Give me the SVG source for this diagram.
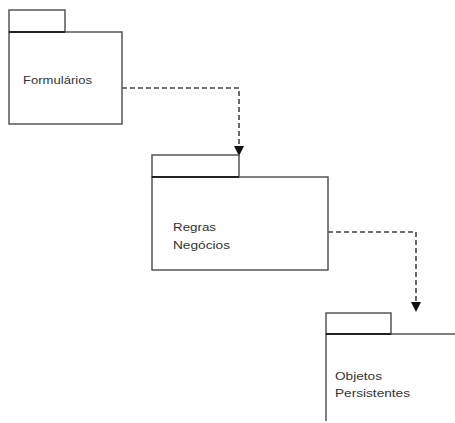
<svg xmlns="http://www.w3.org/2000/svg" width="455" height="423" viewBox="0 0 455 423">
<style>
.box{fill:#fff;stroke:#555;stroke-width:1.5}
.tabline{stroke:#222;stroke-width:2}
.lbl{font-family:"Liberation Sans",Arial,sans-serif;font-size:11.5px;fill:#333}
.dep{fill:none;stroke:#444;stroke-width:1.6;stroke-dasharray:5,3}
</style>
<defs>
<marker id="arr" viewBox="0 0 10 10" refX="10" refY="5" markerWidth="10" markerHeight="10" markerUnits="userSpaceOnUse" orient="auto">
<path d="M0,0 L10,5 L0,10 Z" fill="#111"/>
</marker>
</defs>
<rect width="455" height="423" fill="#fff"/>
<g id="connectors">
<path class="dep" d="M122,88 H239 V156" marker-end="url(#arr)"/>
<path class="dep" d="M328,232 H416 V312" marker-end="url(#arr)"/>
</g>
<g id="formularios">
<rect class="box" x="9" y="10" width="56" height="22"/>
<rect class="box" x="9" y="32" width="113" height="92"/>
<line class="tabline" x1="9" y1="32" x2="65" y2="32"/>
<text class="lbl" x="23" y="84" textLength="69" lengthAdjust="spacingAndGlyphs">Formulários</text>
</g>
<g id="regras">
<rect class="box" x="152" y="155" width="87" height="22"/>
<rect class="box" x="152" y="177" width="176" height="93"/>
<line class="tabline" x1="152" y1="177" x2="239" y2="177"/>
<text class="lbl" x="173" y="231" textLength="43" lengthAdjust="spacingAndGlyphs">Regras</text>
<text class="lbl" x="173" y="249" textLength="57" lengthAdjust="spacingAndGlyphs">Negócios</text>
</g>
<g id="objetos">
<rect class="box" x="326" y="313" width="65" height="21"/>
<path d="M326,421 V334 H455" fill="none" stroke="#555" stroke-width="1.5"/>
<line class="tabline" x1="326" y1="334" x2="391" y2="334"/>
<text class="lbl" x="335" y="380" textLength="47" lengthAdjust="spacingAndGlyphs">Objetos</text>
<text class="lbl" x="335" y="397" textLength="75" lengthAdjust="spacingAndGlyphs">Persistentes</text>
</g>
</svg>
